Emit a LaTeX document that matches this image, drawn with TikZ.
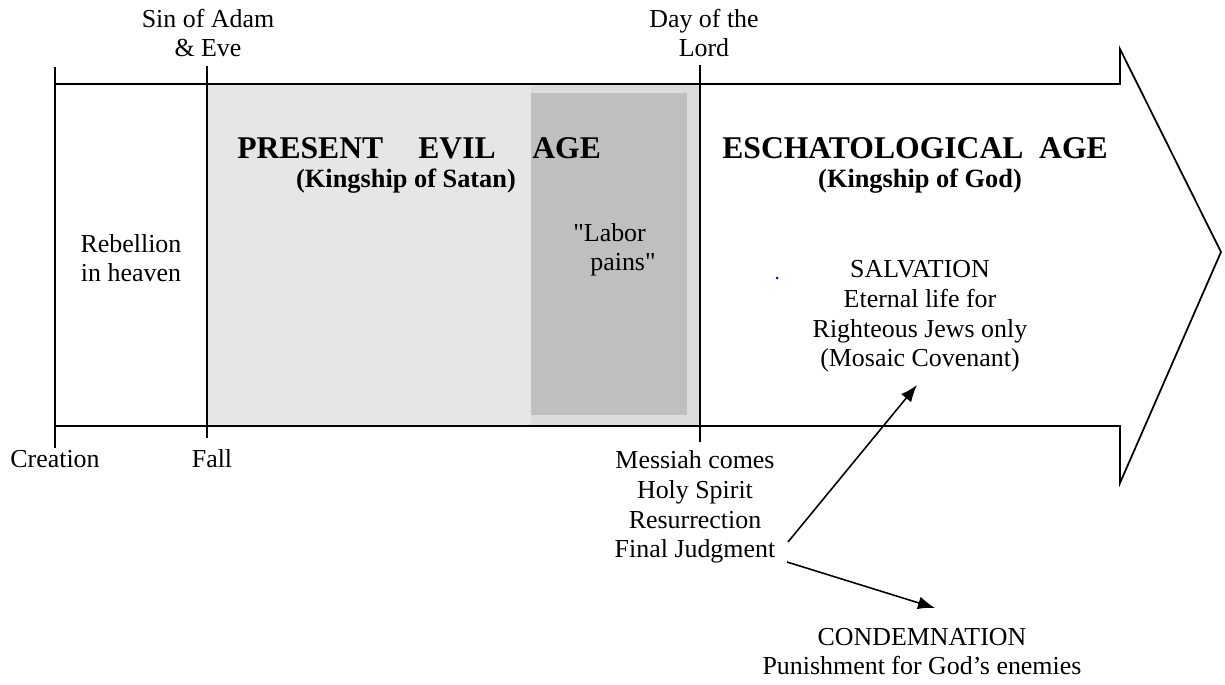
\documentclass[tikz,border=0pt]{standalone}
\usepackage{fontspec}
\setmainfont{Liberation Serif}[Ligatures=TeXOff]
\usetikzlibrary{arrows.meta}
\definecolor{ageLight}{HTML}{E6E6E6}
\definecolor{ageMid}{HTML}{DCDCDC}
\definecolor{ageDark}{HTML}{BFBFBF}

\begin{document}
\begin{tikzpicture}[x=0.02cm,y=-0.02cm,
  txt/.style={font=\fontsize{14.75}{17}\selectfont,align=center,inner sep=0pt,anchor=base},
  ttl/.style={font=\fontsize{18}{20}\selectfont\bfseries,inner sep=0pt,anchor=base west},
  sub/.style={font=\fontsize{15}{17}\selectfont\bfseries,inner sep=0pt,anchor=base},
  edge/.style={line width=1pt},
  fate/.style={-{Latex[length=0.34cm,width=0.26cm]},line width=0.9pt}]
\def\xc{55};
\def\xf{207};
\def\xd{700};
\def\yt{84};
\def\yb{426};

\useasboundingbox (0,0) rectangle (1225,685);

% ages
\fill[ageLight] (\xf,\yt) rectangle (\xd,\yb);
\fill[ageMid] (531,\yt) rectangle (\xd,\yb);
\fill[ageDark] (531,93) rectangle (687,415);

% time arrow
\draw[edge] (\xc,\yt) -- (1120,\yt) -- (1120,49) -- (1221,252) -- (1120,483) -- (1120,\yb) -- (\xc,\yb);
\draw[edge] (\xc,67) -- (\xc,448);
\draw[edge] (\xf,66) -- (\xf,438);
\draw[edge] (\xd,65) -- (\xd,442);

% multi-line nodes sit on their last line
\node[txt] (sin) at (208,57) {Sin of Adam\\\& Eve};
\node[txt] (day) at (704,57) {Day of the\\Lord};
\node[txt] (creation) at (\xc,468) {Creation};
\node[txt] (fall) at (212,468) {Fall};
\node[txt] (events) at (695,558) {Messiah comes\\Holy Spirit\\Resurrection\\Final Judgment};

\node[ttl] (present) at (237,159) {PRESENT};
\node[ttl] (evil) at (418,159) {EVIL};
\node[ttl] (age) at (532,159) {AGE};
\node[sub] (satan) at (406,188) {(Kingship of Satan)};
\node[ttl] (escha) at (722,159) {ESCHATOLOGICAL\ \ AGE};
\node[sub] (god) at (920,188) {(Kingship of God)};

\node[txt] (rebellion) at (131,282) {Rebellion\\in heaven};
\node[txt,align=left,anchor=base west] (labor) at (573,271) {"Labor\\\hspace*{0.34cm}pains"};
\fill[blue] (777,278) circle (1.5);

\node[txt] (salv) at (920,367) {SALVATION\\Eternal life for\\Righteous Jews only\\(Mosaic Covenant)};
\node[txt] (cond) at (922,675) {CONDEMNATION\\Punishment for God’s enemies};

\coordinate (fjUp) at (788,542);
\coordinate (fjDown) at (787,562);
\coordinate (salvIn) at (917,385);
\coordinate (condIn) at (935,608);
\draw[fate] (fjUp) -- (salvIn);
\draw[fate] (fjDown) -- (condIn);
\end{tikzpicture}
\end{document}
